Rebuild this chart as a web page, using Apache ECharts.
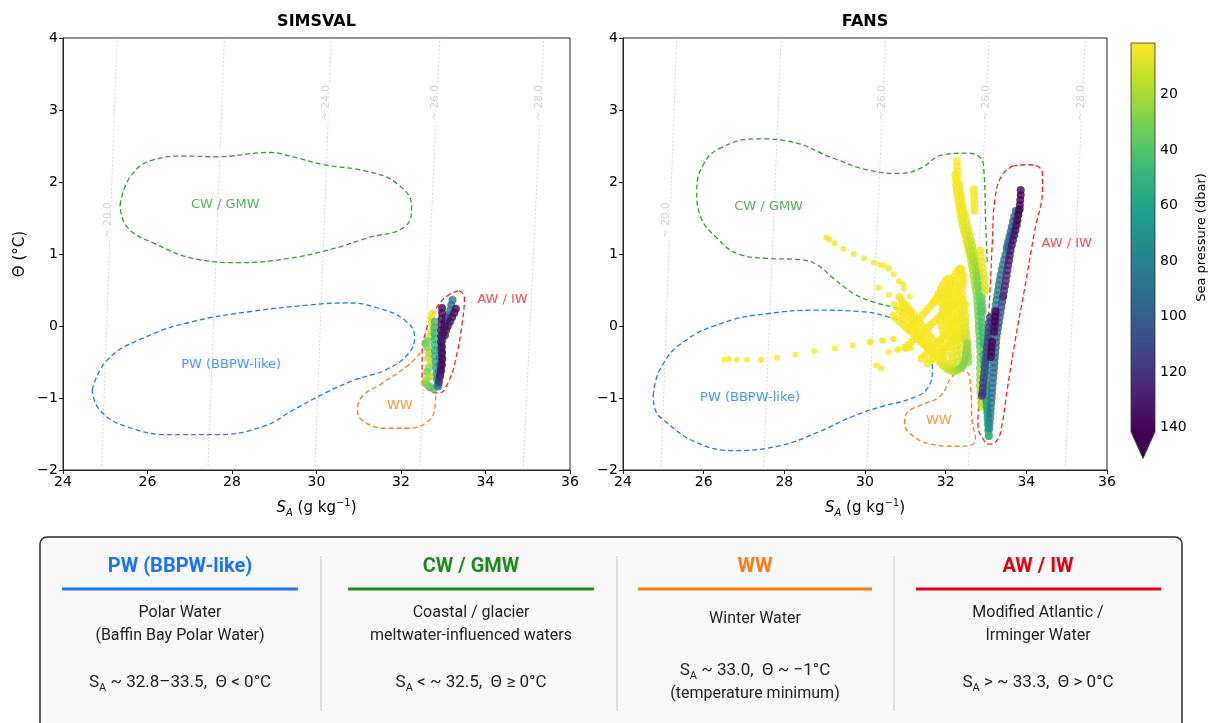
<!DOCTYPE html>
<html><head><meta charset="utf-8">
<script src="https://cdn.jsdelivr.net/npm/echarts@6/dist/echarts.min.js"></script>
<style>html,body{margin:0;padding:0;background:#fff;}#c{width:1208px;height:723px;}</style>
</head><body><div id="c"></div>
<script>
// ---------------- DATA ----------------
const panelTitles = ['SIMSVAL', 'FANS'];
const pressureTicks = [20, 40, 60, 80, 100, 120, 140];
const pressureRange = [1.4, 141.5];
const viridisR = ['#fde725','#b5de2b','#6ece58','#35b779','#1f9e89','#26828e','#31688e','#3e4989','#482878','#440154'];

// isopycnal guide lines: [S at Θ=-2, S at Θ=4]
const simsIsoLines = [[24.91,25.28],[27.43,27.82],[29.96,30.35],[32.44,32.92],[34.89,35.38]];
const fansIsoLines = [[24.94,25.33],[27.48,27.92],[30.04,30.51],[32.56,33.08],[34.96,35.46]];
const simsIsoLabels = [[25.08,1.47,'~ 20.0'],[30.24,3.1,'~ 24.0'],[32.82,3.1,'~ 26.0'],[35.28,3.1,'~ 28.0']];
const fansIsoLabels = [[25.08,1.47,'~ 20.0'],[30.43,3.1,'~ 26.0'],[33.0,3.1,'~ 26.0'],[35.37,3.1,'~ 28.0']];

// water-mass outlines [S, Θ]
const simsCW = [[25.35,1.68],[25.6,2.08],[26.15,2.31],[26.88,2.36],[27.61,2.35],[28.89,2.41],[29.44,2.35],[30.17,2.24],[31.18,2.15],[31.9,1.98],[32.25,1.66],[32.09,1.38],[31.18,1.22],[30.44,1.08],[29.35,0.94],[28.16,0.88],[27.24,0.92],[26.15,1.15],[25.51,1.38],[25.35,1.68]];
const simsPW = [[24.69,-0.89],[25.05,-0.47],[25.97,-0.15],[27.06,0.06],[28.43,0.2],[29.8,0.29],[30.72,0.32],[31.45,0.25],[32.09,0.08],[32.32,-0.15],[32.18,-0.38],[31.63,-0.61],[30.9,-0.75],[30.17,-0.94],[29.44,-1.17],[28.71,-1.4],[27.61,-1.51],[26.6,-1.51],[25.51,-1.4],[24.87,-1.17],[24.69,-0.89]];
const simsWW = [[32.46,-0.37],[32.18,-0.54],[31.54,-0.8],[31.08,-0.98],[30.97,-1.17],[31.13,-1.33],[31.63,-1.42],[32.18,-1.42],[32.64,-1.32],[32.8,-1.14],[32.82,-0.94]];
const simsAW = [[33.38,0.49],[33.5,0.4],[33.45,0.05],[33.3,-0.45],[33.12,-0.78],[32.9,-0.93],[32.68,-0.9],[32.5,-0.72],[32.5,-0.4],[32.6,-0.05],[32.8,0.22],[33.1,0.42],[33.38,0.49]];
const fansCW = [[33.03,0.89],[32.99,1.45],[32.95,2.15],[32.87,2.33],[32.53,2.4],[31.95,2.38],[31.37,2.19],[30.88,2.12],[30.05,2.17],[29.22,2.33],[28.07,2.57],[27.32,2.6],[26.41,2.47],[25.99,2.24],[25.83,1.87],[25.91,1.54],[26.33,1.22],[26.91,0.99],[27.57,0.94],[28.4,0.92],[28.81,0.85],[29.22,0.66],[29.72,0.45],[30.22,0.33],[30.71,0.26],[31.29,0.15]];
const fansPW = [[24.75,-0.97],[24.92,-0.6],[25.5,-0.22],[26.57,0.06],[27.57,0.17],[28.81,0.22],[29.89,0.2],[30.55,0.13],[31.13,-0.01],[31.5,-0.27],[31.67,-0.6],[31.54,-0.87],[31.13,-1.01],[30.47,-1.11],[29.72,-1.25],[28.81,-1.48],[27.9,-1.66],[26.74,-1.73],[25.83,-1.62],[25.08,-1.34],[24.79,-1.15],[24.75,-0.97]];
const fansWW = [[32.33,-0.62],[32.53,-0.64],[32.62,-0.87],[32.66,-1.34],[32.74,-1.57],[32.6,-1.66],[32.2,-1.67],[31.62,-1.64],[31.13,-1.5],[30.98,-1.34],[31.05,-1.2],[31.38,-1.1],[31.87,-0.97],[32.12,-0.73],[32.33,-0.62]];
const fansAW = [[33.65,2.22],[34.0,2.24],[34.27,2.22],[34.4,2.1],[34.4,1.92],[34.2,1.3],[33.95,0.5],[33.73,-0.18],[33.53,-0.87],[33.38,-1.42],[33.26,-1.6],[33.07,-1.64],[32.93,-1.57],[32.8,-1.38],[32.86,-0.87],[33.02,-0.18],[33.1,0.5],[33.16,1.2],[33.22,1.75],[33.38,2.08],[33.65,2.22]];

// region labels [S, Θ, text]
const simsRegionLabels = [[27.84,1.68,'CW / GMW'],[27.98,-0.54,'PW (BBPW-like)'],[31.97,-1.11,'WW'],[34.4,0.36,'AW / IW']];
const fansRegionLabels = [[27.61,1.66,'CW / GMW'],[27.15,-0.99,'PW (BBPW-like)'],[31.83,-1.31,'WW'],[35.0,1.14,'AW / IW']];

// SIMSVAL profiles [S, Θ, pressure]
const simsYellow = [[32.74,0.17,3],[32.71,0.11,4],[32.73,0.05,5],[32.76,-0.02,7],[32.72,-0.09,9],[32.70,-0.15,12],[32.63,-0.21,30],[32.58,-0.24,34],[32.62,-0.30,28],[32.67,-0.37,22],[32.65,-0.44,16],[32.70,-0.51,12],[32.66,-0.58,24],[32.62,-0.64,32],[32.68,-0.70,18],[32.60,-0.75,22],[32.56,-0.79,26],[32.63,-0.82,30],[32.70,-0.85,36],[32.77,-0.87,42]];
const simsGreen = [[32.80,0.06,45],[32.79,-0.02,46],[32.79,-0.10,48],[32.80,-0.18,50],[32.80,-0.26,52],[32.80,-0.34,54],[32.81,-0.42,55],[32.82,-0.50,56],[32.83,-0.58,58],[32.84,-0.66,60],[32.85,-0.74,62],[32.86,-0.82,60]];
const simsTeal = [[33.22,0.36,88],[33.19,0.29,87],[33.16,0.22,86],[33.12,0.15,85],[33.08,0.08,84],[33.04,0.0,83],[33.00,-0.08,82],[32.97,-0.16,80],[32.95,-0.24,78],[32.93,-0.34,76],[32.92,-0.44,75],[32.91,-0.54,78],[32.90,-0.64,82],[32.89,-0.74,85],[32.88,-0.84,88]];
const simsBlue = [[33.06,0.12,110],[33.03,0.04,108],[33.01,-0.04,106],[32.99,-0.12,104],[32.98,-0.20,102],[32.97,-0.28,104],[32.97,-0.36,106],[32.96,-0.44,108],[32.95,-0.52,110],[32.94,-0.60,112],[32.93,-0.68,114]];
const simsPurpleA = [[32.97,0.25,141],[32.97,0.18,140],[32.96,0.10,139],[32.96,0.02,138],[32.95,-0.06,137],[32.95,-0.14,136],[32.95,-0.22,136],[32.96,-0.30,137],[32.97,-0.38,138],[32.98,-0.46,140],[32.97,-0.54,139],[32.95,-0.62,136],[32.92,-0.70,130],[32.90,-0.78,125]];
const simsPurpleB = [[33.30,0.24,140],[33.26,0.18,139],[33.21,0.12,138],[33.16,0.06,137],[33.11,0.0,136],[33.07,-0.06,135],[33.04,-0.13,134]];

// FANS profiles [S, Θ, pressure]
const fansSparseLow = [[26.51,-0.47,2],[26.62,-0.46,2],[26.82,-0.47,2],[27.07,-0.47,2],[27.42,-0.47,2],[27.82,-0.44,2],[28.28,-0.40,2],[28.74,-0.35,2],[29.25,-0.31,2],[29.70,-0.27,2],[30.12,-0.23,2],[30.45,-0.20,2],[30.70,-0.18,2],[30.28,-0.55,2],[30.40,-0.59,2],[30.59,-0.36,2],[30.80,-0.33,2],[31.00,-0.32,2],[31.13,-0.31,2]];
const fansSparseHigh = [[29.04,1.23,2],[29.12,1.20,2],[29.25,1.15,2],[29.46,1.07,2],[29.72,1.00,2],[29.97,0.94,2],[30.22,0.88,2],[30.37,0.85,2],[30.47,0.84,2],[30.59,0.80,2],[30.71,0.72,2],[30.84,0.62,2],[30.96,0.52,2],[31.11,0.41,2],[30.34,0.53,2],[30.59,0.43,2],[30.71,0.31,2],[30.88,0.38,2],[30.95,0.58,2],[30.13,-0.22,2],[30.42,-0.20,2],[30.71,-0.18,2],[30.84,-0.32,2]];
const fansClusterA = [[30.70,0.14,3],[30.78,0.10,3],[30.86,0.06,3],[30.94,0.02,3],[31.02,-0.02,3],[31.10,-0.06,3],[31.18,-0.10,3],[31.26,-0.14,3],[31.34,-0.18,3],[31.42,-0.22,3],[31.50,-0.26,3],[31.58,-0.30,3],[31.66,-0.34,3],[31.74,-0.38,4],[31.82,-0.42,4],[31.90,-0.46,4],[31.98,-0.50,5],[32.06,-0.54,6],[32.14,-0.58,8],[32.22,-0.62,12]];
const fansClusterB = [[30.86,0.40,3],[30.92,0.34,3],[30.98,0.28,3],[31.04,0.22,3],[31.10,0.16,3],[31.16,0.10,3],[31.23,0.04,3],[31.30,-0.02,3],[31.37,-0.08,3],[31.44,-0.14,3],[31.51,-0.20,3],[31.58,-0.26,3],[31.65,-0.32,3],[31.72,-0.38,4],[31.80,-0.44,4],[31.88,-0.50,5],[31.96,-0.56,6],[32.04,-0.60,8]];
const fansClusterC = [[31.00,0.30,3],[31.07,0.25,3],[31.14,0.20,3],[31.21,0.15,3],[31.28,0.10,3],[31.35,0.05,3],[31.42,0.0,3],[31.49,-0.05,3],[31.56,-0.10,3],[31.63,-0.15,3],[31.70,-0.20,3],[31.77,-0.25,3],[31.84,-0.30,3],[31.91,-0.35,4]];
const fansClusterD = [[31.00,-0.30,3],[31.08,-0.26,3],[31.16,-0.22,3],[31.24,-0.18,3],[31.32,-0.14,3],[31.40,-0.10,3],[31.48,-0.06,3],[31.56,-0.02,3],[31.64,0.02,3],[31.72,0.06,3],[31.80,0.10,3],[31.88,0.14,3],[31.96,0.18,3],[32.04,0.22,3],[32.12,0.26,3],[32.20,0.30,3],[32.28,0.34,3]];
const fansClusterE = [[31.10,-0.05,3],[31.18,0.0,3],[31.26,0.05,3],[31.34,0.10,3],[31.42,0.15,3],[31.50,0.20,3],[31.58,0.25,3],[31.66,0.30,3],[31.74,0.35,3],[31.82,0.40,3],[31.90,0.45,3]];
const fansClusterF = [[30.80,0.26,3],[30.87,0.21,3],[30.94,0.16,3],[31.01,0.11,3],[31.08,0.06,3],[31.15,0.01,3],[31.22,-0.04,3],[31.29,-0.09,3],[31.36,-0.14,3],[31.43,-0.19,3],[31.50,-0.24,3],[31.57,-0.29,3],[31.64,-0.34,3],[31.71,-0.39,3],[31.78,-0.44,4],[31.85,-0.49,4],[31.92,-0.54,5]];
const fansClusterG = [[31.30,-0.18,3],[31.38,-0.22,3],[31.46,-0.26,3],[31.54,-0.30,3],[31.62,-0.34,3],[31.70,-0.38,3],[31.78,-0.42,3],[31.86,-0.46,4],[31.94,-0.50,4],[32.02,-0.53,5],[32.10,-0.56,6],[32.18,-0.58,8],[32.26,-0.60,10]];
const fansClusterH = [[31.40,-0.45,3],[31.48,-0.41,3],[31.56,-0.37,3],[31.64,-0.32,3],[31.72,-0.28,3],[31.80,-0.23,3],[31.88,-0.19,3],[31.96,-0.14,3],[32.04,-0.10,3],[32.12,-0.05,3],[32.20,0.0,3],[32.28,0.05,3]];
const fansClusterJ = [[31.55,-0.52,3],[31.63,-0.48,3],[31.71,-0.45,3],[31.79,-0.41,3],[31.87,-0.37,3],[31.95,-0.33,3],[32.03,-0.29,4],[32.11,-0.25,4],[32.19,-0.21,5],[32.27,-0.17,6],[32.35,-0.13,8]];
const fansLoopA = [[31.80,0.35,3],[31.86,0.42,3],[31.93,0.48,3],[32.00,0.53,3],[32.07,0.57,3],[32.14,0.62,3],[32.20,0.68,3],[32.26,0.74,3],[32.32,0.78,3],[32.37,0.80,3]];
const fansLoopB = [[32.37,0.72,3],[32.36,0.64,3],[32.34,0.56,3],[32.33,0.48,3],[32.35,0.40,3],[32.36,0.32,3],[32.34,0.24,3],[32.32,0.16,3],[32.33,0.08,3],[32.35,0.0,3],[32.36,-0.08,4],[32.35,-0.16,4],[32.37,-0.24,5],[32.39,-0.32,6],[32.41,-0.40,8],[32.42,-0.48,12],[32.42,-0.56,18]];
const fansLoopC = [[32.12,0.55,3],[32.14,0.47,3],[32.16,0.39,3],[32.15,0.31,3],[32.13,0.23,3],[32.14,0.15,3],[32.16,0.07,3],[32.17,-0.01,3],[32.16,-0.09,3],[32.18,-0.17,3]];
const fansLoopD = [[32.00,0.45,3],[31.98,0.37,3],[31.97,0.29,3],[31.99,0.21,3],[32.00,0.13,3],[32.02,0.05,3],[32.04,-0.03,3]];
const fansLoopE = [[32.22,0.62,3],[32.24,0.54,3],[32.26,0.46,3],[32.24,0.38,3],[32.22,0.30,3],[32.24,0.22,3],[32.27,0.14,3],[32.26,0.06,3],[32.24,-0.02,3],[32.25,-0.10,4],[32.27,-0.18,4],[32.28,-0.26,5],[32.27,-0.34,6],[32.28,-0.42,8],[32.30,-0.50,10]];
const fansLoopF = [[31.88,0.40,3],[31.90,0.32,3],[31.92,0.24,3],[31.90,0.16,3],[31.88,0.08,3],[31.90,0.0,3],[31.93,-0.08,3],[31.95,-0.16,3],[31.93,-0.24,3],[31.95,-0.32,4],[31.98,-0.40,4]];
const fansLoopG = [[32.48,0.30,4],[32.47,0.22,5],[32.49,0.14,6],[32.50,0.06,8],[32.49,-0.02,10],[32.51,-0.10,12],[32.52,-0.18,15],[32.53,-0.26,18],[32.55,-0.34,20],[32.56,-0.42,24],[32.56,-0.50,26]];
const fansLoopH = [[31.70,0.33,3],[31.76,0.38,3],[31.82,0.45,3],[31.88,0.52,3],[31.94,0.58,3],[32.00,0.63,3],[32.06,0.66,3],[32.10,0.60,3],[32.08,0.52,3],[32.06,0.44,3],[32.07,0.36,3],[32.08,0.28,3],[32.07,0.20,3],[32.08,0.12,3],[32.10,0.04,3],[32.11,-0.04,3],[32.12,-0.12,3],[32.13,-0.20,4],[32.14,-0.28,4],[32.15,-0.36,5],[32.16,-0.44,6],[32.18,-0.52,8]];
const fansLoopI = [[32.40,0.78,3],[32.43,0.70,3],[32.44,0.62,3],[32.42,0.54,3],[32.41,0.46,3],[32.43,0.38,3],[32.44,0.30,4],[32.43,0.22,4],[32.42,0.14,4],[32.43,0.06,5],[32.45,-0.02,6],[32.46,-0.10,8],[32.47,-0.18,10]];
const fansClusterBase = [[31.96,-0.55,8],[32.02,-0.58,10],[32.08,-0.60,12],[32.14,-0.62,14],[32.20,-0.63,16],[32.26,-0.62,18],[32.32,-0.60,22],[32.38,-0.58,26],[32.44,-0.54,28],[32.48,-0.48,30],[32.50,-0.40,30],[32.52,-0.32,28],[32.54,-0.24,25]];
const fansSteepA = [[32.28,2.29,2],[32.28,2.22,2],[32.29,2.15,2],[32.29,2.08,2],[32.30,2.01,2],[32.31,1.94,3],[32.32,1.87,3],[32.34,1.80,3],[32.36,1.73,3],[32.38,1.66,4],[32.40,1.59,4],[32.42,1.52,5],[32.44,1.45,5],[32.47,1.38,6],[32.50,1.31,7],[32.53,1.24,8],[32.56,1.17,10],[32.59,1.10,12],[32.62,1.03,14],[32.65,0.96,16],[32.68,0.89,18],[32.71,0.82,20],[32.74,0.75,22],[32.76,0.68,24],[32.78,0.61,26],[32.80,0.54,28],[32.82,0.47,30],[32.84,0.40,32],[32.85,0.33,34],[32.87,0.26,36],[32.88,0.19,38],[32.89,0.12,40],[32.90,0.05,42],[32.91,-0.02,44],[32.92,-0.09,45],[32.93,-0.16,46],[32.94,-0.23,47],[32.95,-0.30,48],[32.96,-0.37,50]];
const fansSteepB = [[32.24,2.10,2],[32.25,2.03,2],[32.26,1.96,2],[32.27,1.89,2],[32.29,1.82,3],[32.31,1.75,3],[32.33,1.68,3],[32.35,1.61,3],[32.37,1.54,4],[32.39,1.47,4],[32.42,1.40,4],[32.45,1.33,5],[32.48,1.26,5],[32.51,1.19,6],[32.54,1.12,7],[32.57,1.05,8],[32.60,0.98,9],[32.63,0.91,10],[32.65,0.84,12],[32.67,0.77,14],[32.69,0.70,16],[32.71,0.63,18],[32.73,0.56,20],[32.75,0.49,22],[32.77,0.42,24],[32.78,0.35,26],[32.79,0.28,28],[32.80,0.21,30],[32.81,0.14,31],[32.82,0.07,32],[32.82,0.0,33],[32.83,-0.07,34],[32.84,-0.14,35],[32.84,-0.21,36],[32.85,-0.28,37]];
const fansSteepC = [[32.34,1.95,3],[32.36,1.88,3],[32.38,1.81,3],[32.40,1.74,3],[32.42,1.67,4],[32.45,1.60,4],[32.48,1.53,5],[32.51,1.46,6],[32.54,1.39,7],[32.57,1.32,8],[32.60,1.25,10],[32.63,1.18,12],[32.66,1.11,14],[32.69,1.04,16],[32.72,0.97,18],[32.75,0.90,20],[32.78,0.83,22],[32.80,0.76,24],[32.82,0.69,26],[32.84,0.62,28],[32.86,0.55,30],[32.88,0.48,32],[32.89,0.41,34],[32.90,0.34,36],[32.91,0.27,38],[32.92,0.20,40]];
const fansDotsColumn = [[32.70,1.90,3],[32.70,1.84,3],[32.71,1.78,3],[32.71,1.72,3],[32.71,1.66,3],[32.72,1.60,3]];
const fansDotsRight = [[32.86,1.05,6],[32.88,0.97,6],[32.90,0.89,6],[32.92,0.81,7],[32.94,0.73,7],[32.96,0.65,7],[32.97,0.57,7],[32.98,0.49,8]];
const fansBottomGreen = [[32.93,-0.40,48],[32.94,-0.48,49],[32.95,-0.56,50],[32.96,-0.64,51],[32.97,-0.72,52],[32.98,-0.80,53],[32.99,-0.88,54],[33.00,-0.96,55],[33.01,-1.04,55],[33.02,-1.12,54],[33.03,-1.20,53],[33.04,-1.28,52],[33.05,-1.36,52],[33.06,-1.44,50],[33.07,-1.52,48]];
const fansBottomYellow = [[32.86,-0.35,30],[32.86,-0.43,30],[32.86,-0.51,28],[32.85,-0.59,26],[32.85,-0.67,24],[32.85,-0.75,22],[32.85,-0.83,20],[32.86,-0.91,18],[32.87,-0.99,16],[32.88,-1.07,14],[32.90,-1.12,16]];
const fansTeal = [[33.84,1.62,88],[33.80,1.55,88],[33.76,1.48,87],[33.72,1.41,87],[33.68,1.34,86],[33.64,1.27,86],[33.60,1.20,85],[33.56,1.13,85],[33.52,1.06,84],[33.48,0.99,84],[33.45,0.92,83],[33.42,0.85,83],[33.39,0.78,82],[33.36,0.71,82],[33.34,0.64,81],[33.32,0.57,81],[33.30,0.50,80],[33.28,0.43,80],[33.26,0.36,79],[33.24,0.29,79],[33.22,0.22,78],[33.20,0.15,78],[33.18,0.08,77],[33.16,0.01,76],[33.14,-0.06,75],[33.12,-0.13,74],[33.10,-0.20,73],[33.08,-0.27,72],[33.06,-0.34,71],[33.05,-0.41,70],[33.04,-0.48,70],[33.03,-0.55,69],[33.02,-0.62,68],[33.02,-0.69,67],[33.01,-0.76,66],[33.01,-0.83,65],[33.01,-0.90,64],[33.02,-0.97,63],[33.02,-1.04,62],[33.03,-1.11,61],[33.04,-1.18,60],[33.05,-1.25,58],[33.05,-1.32,56],[33.06,-1.39,54],[33.06,-1.46,52],[33.07,-1.53,50]];
const fansBlueMid = [[33.74,1.60,100],[33.70,1.52,100],[33.67,1.45,98],[33.64,1.38,97],[33.61,1.31,96],[33.58,1.24,95],[33.55,1.17,95],[33.52,1.10,94]];
const fansBlueRight = [[33.42,0.40,112],[33.40,0.33,110],[33.38,0.26,108],[33.36,0.19,106],[33.34,0.12,105],[33.32,0.05,104],[33.30,-0.02,103],[33.28,-0.09,102],[33.26,-0.16,101],[33.25,-0.23,100],[33.24,-0.30,99],[33.23,-0.37,98],[33.22,-0.44,97],[33.21,-0.51,96],[33.20,-0.58,95],[33.19,-0.65,94],[33.18,-0.72,93],[33.17,-0.79,92],[33.16,-0.86,91],[33.15,-0.93,90],[33.14,-1.00,89],[33.13,-1.07,88],[33.12,-1.14,87],[33.11,-1.21,85],[33.10,-1.28,82],[33.09,-1.35,78],[33.08,-1.42,72]];
const fansBlueLeft = [[33.10,0.12,120],[33.08,0.05,118],[33.07,-0.02,117],[33.06,-0.09,116],[33.05,-0.16,115],[33.04,-0.23,114],[33.02,-0.30,113],[33.01,-0.37,112],[33.00,-0.44,111],[32.98,-0.51,110],[32.97,-0.58,109],[32.96,-0.65,110],[32.94,-0.72,112],[32.93,-0.79,115],[32.92,-0.86,118],[32.91,-0.93,120],[32.90,-0.97,121]];
const fansPurple = [[33.86,1.89,141],[33.86,1.82,141],[33.85,1.75,141],[33.84,1.68,141],[33.82,1.61,140],[33.80,1.54,140],[33.78,1.47,139],[33.76,1.40,138],[33.73,1.33,137],[33.70,1.26,136],[33.67,1.19,135],[33.64,1.12,134],[33.61,1.05,133],[33.59,0.98,132],[33.57,0.91,131],[33.55,0.84,130],[33.53,0.77,129],[33.51,0.70,128],[33.49,0.63,127],[33.47,0.56,126],[33.45,0.49,125],[33.43,0.42,124]];
const fansPurpleBlobs = [[33.24,0.20,141],[33.23,0.13,141],[33.22,0.06,141],[33.21,-0.01,140],[33.20,-0.08,140],[33.15,-0.22,140],[33.14,-0.29,141],[33.13,-0.36,141],[33.12,-0.43,140]];

// summary panel text
const boxTitles = ['PW (BBPW-like)', 'CW / GMW', 'WW', 'AW / IW'];
const boxBodies = [['Polar Water', '(Baffin Bay Polar Water)'], ['Coastal / glacier', 'meltwater-influenced waters'], ['Winter Water'], ['Modified Atlantic /', 'Irminger Water']];
const boxFormulas = [' ~ 32.8–33.5,  Θ < 0°C', ' < ~ 32.5,  Θ ≥ 0°C', ' ~ 33.0,  Θ ~ −1°C', ' > ~ 33.3,  Θ > 0°C'];
const boxNotes = ['', '', '(temperature minimum)', ''];

// ---------------- STYLE / LAYOUT ----------------
const regionColor = {'CW / GMW':'#2ca02c','PW (BBPW-like)':'#1a7bff','WW':'#ff7f0e','AW / IW':'#ff1f1f'};
const boxColors = ['#1a73f5','#1e8a1e','#ff7a12','#e3000f'];
const FONT = 'DejaVu Sans';
const grids = [
  {left:63, top:38, width:507, height:432},
  {left:623, top:38, width:484, height:432},
  {left:1131, top:43, width:24, height:389}
];

const minusFmt = v => (v < 0 ? '\u2212' + Math.abs(v) : String(v));
const axisTitleRich = {
  i:{fontFamily:FONT,fontStyle:'italic',fontSize:15,lineHeight:20,color:'#000'},
  sub:{fontFamily:FONT,fontStyle:'italic',fontSize:10,lineHeight:20,verticalAlign:'bottom',color:'#000'},
  n:{fontFamily:FONT,fontSize:15,lineHeight:20,color:'#000'},
  sup:{fontFamily:FONT,fontSize:10,lineHeight:20,verticalAlign:'top',color:'#000'}
};

function xAxisFor(i){
  return {gridIndex:i, type:'value', min:24, max:36, interval:2,
    axisLine:{show:true,onZero:false,lineStyle:{color:'#222',width:1}},
    axisTick:{show:true,length:4,lineStyle:{color:'#222'}},
    axisLabel:{fontFamily:FONT,fontSize:14,color:'#000',margin:5},
    splitLine:{show:false},
    name:'{i|S}{sub|A}{n| (g kg}{sup|\u22121}{n|)}', nameLocation:'middle', nameGap:28,
    nameTextStyle:{rich:axisTitleRich}};
}
function yAxisFor(i){
  const a = {gridIndex:i, type:'value', min:-2, max:4, interval:1,
    axisLine:{show:true,lineStyle:{color:'#222',width:1}},
    axisTick:{show:true,length:4,lineStyle:{color:'#222'}},
    axisLabel:{fontFamily:FONT,fontSize:14,color:'#000',margin:5,formatter:minusFmt},
    splitLine:{show:false}};
  if (i === 0) { a.name = 'Θ (°C)'; a.nameLocation = 'middle'; a.nameGap = 35;
    a.nameTextStyle = {fontFamily:FONT,fontSize:15,color:'#000'}; }
  return a;
}

const series = [];
function addPanel(i, iso, isoLabels, outlines, regionLabels, sparse, tracks){
  iso.forEach(l => series.push({type:'line', xAxisIndex:i, yAxisIndex:i, data:[[l[0],-2],[l[1],4]],
    symbol:'none', silent:true, z:1, lineStyle:{color:'#c4c4c4',width:0.9,type:[1.5,2.5]}}));
  series.push({type:'scatter', xAxisIndex:i, yAxisIndex:i, symbolSize:0, silent:true, z:2,
    data:isoLabels.map(d => ({value:[d[0],d[1]], label:{formatter:d[2]}})),
    label:{show:true, position:'inside', rotate:90, color:'#c8c8c8', fontFamily:FONT, fontSize:10.5, backgroundColor:'#fff', padding:[1,1]}});
  outlines.forEach(o => series.push({type:'line', xAxisIndex:i, yAxisIndex:i, data:o.data, smooth:0.45,
    symbol:'none', silent:true, z:3, lineStyle:{color:o.color,width:1.3,type:[5,3]}}));
  series.push({type:'scatter', xAxisIndex:i, yAxisIndex:i, symbolSize:0, silent:true, z:4,
    data:regionLabels.map(d => ({value:[d[0],d[1]], label:{formatter:d[2], color:regionColor[d[2]]}})),
    label:{show:true, position:'inside', fontFamily:FONT, fontSize:13}});
  const idx = [];
  idx.push(series.length);
  series.push({type:'scatter', xAxisIndex:i, yAxisIndex:i, symbolSize:6, z:5, silent:true, data:[].concat(...sparse)});
  idx.push(series.length);
  series.push({type:'scatter', xAxisIndex:i, yAxisIndex:i, symbolSize:8, z:6, silent:true, data:[].concat(...tracks)});
  return idx;
}

const simsIdx = addPanel(0, simsIsoLines, simsIsoLabels,
  [{data:simsCW,color:regionColor['CW / GMW']},{data:simsPW,color:regionColor['PW (BBPW-like)']},{data:simsWW,color:regionColor['WW']},{data:simsAW,color:regionColor['AW / IW']}],
  simsRegionLabels, [], [simsYellow, simsGreen, simsTeal, simsBlue, simsPurpleA, simsPurpleB]);
const fansIdx = addPanel(1, fansIsoLines, fansIsoLabels,
  [{data:fansCW,color:regionColor['CW / GMW']},{data:fansPW,color:regionColor['PW (BBPW-like)']},{data:fansWW,color:regionColor['WW']},{data:fansAW,color:regionColor['AW / IW']}],
  fansRegionLabels, [fansSparseLow, fansSparseHigh],
  [fansClusterA, fansClusterB, fansClusterC, fansClusterD, fansClusterE, fansClusterF, fansClusterG, fansClusterH, fansClusterJ,
   fansLoopA, fansLoopB, fansLoopC, fansLoopD, fansLoopE, fansLoopF, fansLoopG, fansLoopH, fansLoopI, fansClusterBase,
   fansSteepB, fansSteepA, fansSteepC, fansDotsColumn, fansDotsRight, fansBottomYellow, fansBottomGreen,
   fansTeal, fansBlueMid, fansBlueRight, fansBlueLeft, fansPurple, fansPurpleBlobs]);

// colorbar
series.push({type:'custom', xAxisIndex:2, yAxisIndex:2, data:[[0.5, 70]], silent:true, clip:false, z:5,
  renderItem(params, api){
    const tl = api.coord([0, pressureRange[0]]);
    const br = api.coord([1, pressureRange[1]]);
    const x0 = tl[0], x1 = br[0], y0 = tl[1], y1 = br[1];
    const tip = y1 + (x1 - x0) * 1.1;
    const grad = new echarts.graphic.LinearGradient(0,0,0,1, viridisR.map((c,k)=>({offset:k/(viridisR.length-1), color:c})));
    return {type:'group', children:[
      {type:'rect', shape:{x:x0,y:y0,width:x1-x0,height:y1-y0}, style:{fill:grad}},
      {type:'polygon', shape:{points:[[x0,y1-0.5],[x1,y1-0.5],[(x0+x1)/2,tip]]}, style:{fill:viridisR[viridisR.length-1]}},
      {type:'polygon', shape:{points:[[x0,y0],[x1,y0],[x1,y1],[(x0+x1)/2,tip],[x0,y1]]}, style:{fill:null, stroke:'#333', lineWidth:0.8}}
    ]};
  }});

// graphics: titles and summary box
const graphic = [];
const panelCenters = [grids[0].left + grids[0].width/2, grids[1].left + grids[1].width/2];
panelTitles.forEach((t,k) => graphic.push({type:'text', x:panelCenters[k], y:22,
  style:{text:t, font:'bold 16px "DejaVu Sans"', fill:'#000', textAlign:'center', textVerticalAlign:'middle'}}));
graphic.push({type:'rect', shape:{x:40, y:537, width:1142, height:220, r:7}, style:{fill:'#f8f8f8', stroke:'#2a2a2a', lineWidth:1.5}, z:0});
[321, 617, 894].forEach(x => graphic.push({type:'line', shape:{x1:x, y1:556, x2:x, y2:711}, style:{stroke:'#c8c8c8', lineWidth:1}}));
const colCenters = [180, 471, 755, 1038];
const colLines = [[62,298],[348,594],[638,872],[916,1161]];
const BOXFONT = 'Roboto';
boxTitles.forEach((t,k) => {
  const cx = colCenters[k];
  graphic.push({type:'text', x:cx, y:567, style:{text:t, font:'bold 20px '+BOXFONT, fill:boxColors[k], textAlign:'center', textVerticalAlign:'middle'}});
  graphic.push({type:'line', shape:{x1:colLines[k][0], y1:589, x2:colLines[k][1], y2:589}, style:{stroke:boxColors[k], lineWidth:3}});
  const body = boxBodies[k];
  const bodyY = body.length === 1 ? [619] : [613, 636];
  body.forEach((b,j) => graphic.push({type:'text', x:cx, y:bodyY[j], style:{text:b, font:'16px '+BOXFONT, fill:'#222', textAlign:'center', textVerticalAlign:'middle'}}));
  const fy = boxNotes[k] ? 671 : 683;
  graphic.push({type:'text', x:cx, y:fy, style:{text:'{s|S}{sub|A}{n|' + boxFormulas[k] + '}', textAlign:'center', textVerticalAlign:'middle', fill:'#222',
    rich:{s:{fontFamily:BOXFONT,fontSize:17,lineHeight:22,fill:'#222'}, sub:{fontFamily:BOXFONT,fontSize:11,lineHeight:22,verticalAlign:'bottom',fill:'#222'}, n:{fontFamily:BOXFONT,fontSize:17,lineHeight:22,fill:'#222'}}}});
  if (boxNotes[k]) graphic.push({type:'text', x:cx, y:694, style:{text:boxNotes[k], font:'16px '+BOXFONT, fill:'#222', textAlign:'center', textVerticalAlign:'middle'}});
});

const chart = echarts.init(document.getElementById('c'), null, {renderer:'canvas'});
chart.setOption({
  animation:false,
  backgroundColor:'#fff',
  grid: grids.map((g,k) => Object.assign({show:k<2, borderColor:'#222', borderWidth:1, backgroundColor:'transparent', containLabel:false, outerBoundsMode:'none'}, g)),
  xAxis:[xAxisFor(0), xAxisFor(1), {gridIndex:2, type:'value', min:0, max:1, show:false}],
  yAxis:[yAxisFor(0), yAxisFor(1), {gridIndex:2, type:'value', min:pressureRange[0], max:pressureRange[1], inverse:true, position:'right',
    axisLine:{show:false}, splitLine:{show:false},
    axisTick:{show:true, length:4, customValues:pressureTicks, lineStyle:{color:'#222'}},
    axisLabel:{show:true, customValues:pressureTicks, fontFamily:FONT, fontSize:14, color:'#000', margin:5},
    name:'Sea pressure (dbar)', nameLocation:'middle', nameRotate:90, nameGap:40,
    nameTextStyle:{fontFamily:FONT, fontSize:13, color:'#000'}}],
  visualMap:[{type:'continuous', show:false, dimension:2, min:pressureRange[0], max:pressureRange[1],
    seriesIndex: simsIdx.concat(fansIdx), inRange:{color:viridisR}}],
  graphic: graphic,
  series: series
});
</script></body></html>
